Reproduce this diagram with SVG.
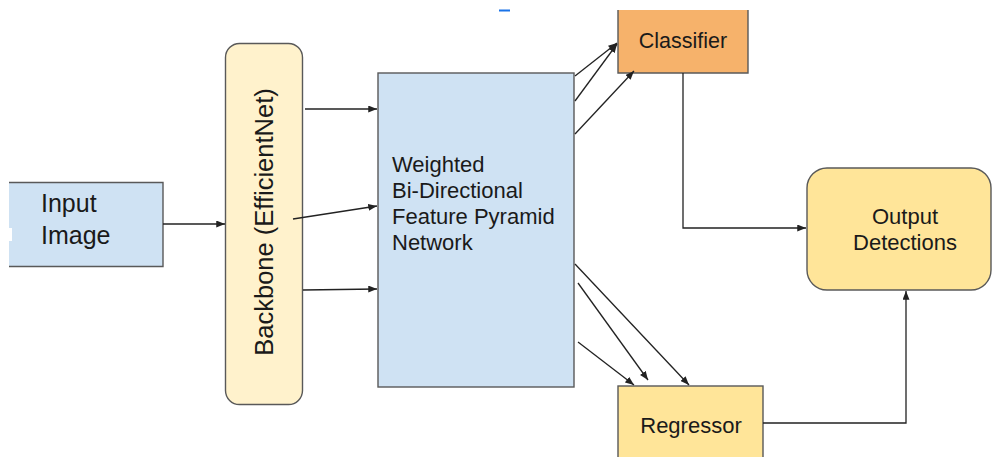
<svg xmlns="http://www.w3.org/2000/svg" width="992" height="457" viewBox="0 0 992 457">
  <defs>
    <marker id="arrow" viewBox="0 0 10 8" refX="10" refY="4" markerWidth="9" markerHeight="7" markerUnits="userSpaceOnUse" orient="auto">
      <path d="M0,0 L10,4 L0,8 Z" fill="#222"/>
    </marker>
    <style>
      .box { stroke: #595959; stroke-width: 1.4; }
      .blue { fill: #cfe2f3; }
      .cream { fill: #fff2cc; }
      .orange { fill: #f6b26b; }
      .yellow { fill: #ffe599; }
      .lbl { font-family: "Liberation Sans", Arial, sans-serif; fill: #1a1a1a; }
      .conn { fill: none; stroke: #222; stroke-width: 1.3; marker-end: url(#arrow); }
    </style>
  </defs>

  <rect width="992" height="457" fill="#ffffff"/>

  <!-- small blue tick at the top -->
  <rect x="499" y="9.5" width="11" height="2" fill="#1a73e8"/>

  <g id="input-image">
    <rect x="9" y="182.5" width="154" height="84" class="blue"/>
    <path d="M9,182.5 H163 V266.5 H9" class="box" fill="none"/>
    <rect x="7" y="228" width="5" height="13" fill="#ffffff"/>
    <text class="lbl" font-size="25" x="41" y="212">Input</text>
    <text class="lbl" font-size="25" x="41" y="244">Image</text>
  </g>

  <g id="backbone">
    <rect x="225.5" y="43.5" width="77" height="361" rx="14" class="box cream"/>
    <text class="lbl" font-size="25.5" text-anchor="middle" transform="translate(273,222) rotate(-90)">Backbone (EfficientNet)</text>
  </g>

  <g id="bifpn">
    <rect x="378" y="73" width="196" height="314" class="box blue"/>
    <text class="lbl" font-size="22" x="392" y="172">Weighted</text>
    <text class="lbl" font-size="22" x="392" y="198">Bi-Directional</text>
    <text class="lbl" font-size="22" x="392" y="224">Feature Pyramid</text>
    <text class="lbl" font-size="22" x="392" y="250">Network</text>
  </g>

  <g id="classifier">
    <rect x="618" y="10" width="130" height="63" class="orange"/>
    <path d="M618,10 V73 H748 V10" class="box" fill="none"/>
    <text class="lbl" font-size="21.5" text-anchor="middle" x="683" y="48">Classifier</text>
  </g>

  <g id="output-detections">
    <rect x="807" y="168" width="184" height="122" rx="20" class="box yellow"/>
    <text class="lbl" font-size="22" text-anchor="middle" x="905" y="224">Output</text>
    <text class="lbl" font-size="22" text-anchor="middle" x="905" y="250">Detections</text>
  </g>

  <g id="regressor">
    <rect x="618" y="386" width="145" height="80" class="box yellow"/>
    <text class="lbl" font-size="22" text-anchor="middle" x="691" y="433">Regressor</text>
  </g>

  <g id="connectors">
    <line class="conn" x1="163" y1="224" x2="225" y2="224"/>
    <line class="conn" x1="305" y1="109" x2="377" y2="109"/>
    <line class="conn" x1="293" y1="219" x2="377" y2="206"/>
    <line class="conn" x1="303" y1="290" x2="377" y2="289"/>
    <line class="conn" x1="575" y1="76" x2="617" y2="43"/>
    <line class="conn" x1="575" y1="101" x2="617" y2="44"/>
    <line class="conn" x1="575" y1="134" x2="634" y2="71"/>
    <line class="conn" x1="575" y1="264" x2="689" y2="385"/>
    <line class="conn" x1="578" y1="283" x2="648" y2="380"/>
    <line class="conn" x1="578" y1="342" x2="634" y2="385"/>
    <polyline class="conn" points="683,73 683,228 806,228"/>
    <polyline class="conn" points="763,423 906,423 906,291"/>
  </g>
</svg>
